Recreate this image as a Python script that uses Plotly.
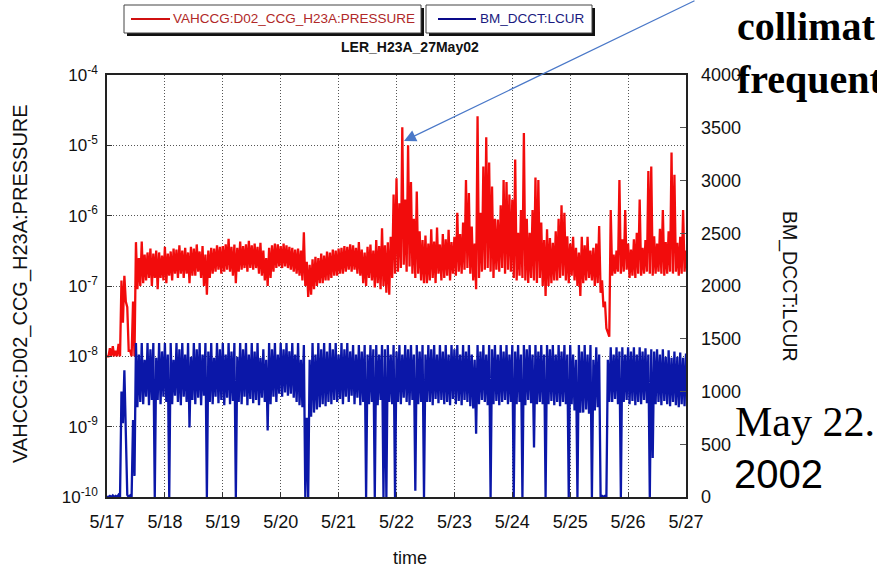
import pandas as pd
import plotly.graph_objects as go

# ---------------- data ----------------
start_time = "2002-05-17 00:00"
sample_step = "72min"          # 0.05 day between samples
half_step = pd.Timedelta("36min")

# Pressure envelope per sample, in units of 1e-7 (high / low value in each sample)
pressure_hi_e7 = [
    0.10, 0.13, 0.14, 0.12, 0.15, 1.2, 1.4, 0.5, 0.12, 0.6,
    4.2, 2.5, 4.3, 2.8, 3.0, 3.4, 2.9, 3.2, 3.0, 2.7,
    3.6, 2.9, 3.1, 3.4, 3.3, 3.8, 3.2, 3.5, 3.0, 3.6,
    3.4, 3.9, 3.1, 3.7, 2.8, 3.2, 3.5, 3.4, 3.8, 3.6,
    3.7, 3.9, 4.7, 3.6, 3.9, 3.5, 4.3, 3.7, 3.9, 4.4,
    3.8, 4.0, 3.6, 4.1, 3.2, 2.5, 3.5, 3.8, 4.0, 3.9,
    3.7, 4.0, 3.8, 3.6, 3.5, 3.3, 3.4, 3.2, 5.8, 2.2,
    2.0, 2.4, 2.6, 2.5, 2.9, 2.7, 3.1, 3.0, 3.3, 3.2,
    3.4, 3.5, 3.7, 3.6, 3.9, 3.8, 3.5, 4.2, 3.3, 3.0,
    3.6, 3.9, 3.2, 4.5, 3.7, 6.6, 3.8, 4.2, 5.0, 20,
    34, 15, 180, 17, 100, 30, 9.0, 22, 6.0, 4.5,
    5.2, 4.0, 6.4, 4.3, 6.8, 3.9, 5.5, 4.6, 6.3, 4.2,
    5.0, 11, 5.5, 8.0, 32, 21, 7.0, 4.0, 260, 11,
    50, 130, 57, 26, 9.0, 8.8, 14, 32, 30, 20,
    17, 63, 5.7, 12, 150, 9.0, 5.7, 12, 35, 32,
    8.0, 4.5, 6.4, 4.8, 4.1, 6.0, 9.0, 14, 11, 5.1,
    4.0, 5.0, 3.5, 3.0, 5.0, 3.8, 5.0, 3.2, 3.5, 4.0,
    7.1, 1.2, 0.6, 0.22, 12, 2.8, 3.2, 32, 4.6, 12,
    4.0, 3.3, 4.6, 5.7, 17, 3.5, 4.5, 43, 50, 5.1,
    4.0, 6.5, 12, 4.2, 6.0, 79, 38, 4.1, 5.0, 12, 3.2,
]
pressure_lo_e7 = [
    0.10, 0.10, 0.10, 0.10, 0.10, 0.3, 0.6, 0.12, 0.10, 0.10,
    0.9, 1.0, 1.1, 1.2, 1.3, 1.0, 1.3, 0.9, 1.3, 1.2,
    1.1, 1.4, 1.2, 1.5, 1.3, 1.5, 1.3, 1.5, 1.1, 1.4,
    1.4, 1.6, 1.3, 1.0, 0.75, 1.3, 1.5, 1.6, 1.7, 1.5,
    1.6, 1.7, 1.6, 1.4, 1.1, 1.6, 1.7, 1.8, 1.6, 1.8,
    1.7, 1.8, 1.5, 1.4, 1.2, 1.0, 1.3, 1.6, 1.8, 1.9,
    1.8, 1.9, 1.8, 1.7, 1.6, 1.5, 1.4, 1.2, 1.0, 0.7,
    0.75, 0.9, 1.0, 1.1, 1.1, 1.2, 1.2, 1.3, 1.4, 1.4,
    1.5, 1.5, 1.6, 1.7, 1.6, 1.7, 1.5, 1.4, 1.1, 1.0,
    1.3, 1.2, 0.95, 1.1, 0.9, 1.0, 0.8, 0.75, 1.3, 1.5,
    1.6, 1.8, 2.0, 1.6, 1.9, 1.5, 1.3, 1.5, 1.2, 1.1,
    1.1, 1.2, 1.3, 1.1, 1.5, 1.2, 1.3, 1.4, 1.2, 1.5,
    1.4, 1.6, 1.5, 1.7, 1.8, 1.5, 1.2, 0.9, 1.3, 1.6,
    1.7, 1.8, 1.6, 1.3, 1.7, 1.6, 1.8, 1.5, 1.7, 1.6,
    1.3, 1.2, 1.4, 1.3, 1.2, 1.1, 1.3, 1.2, 1.1, 1.3,
    1.0, 0.72, 1.0, 1.1, 1.2, 1.2, 1.3, 1.4, 1.2, 1.1,
    1.4, 1.2, 1.0, 0.72, 1.1, 1.2, 1.3, 1.2, 1.0, 1.1,
    0.8, 0.5, 0.25, 0.19, 1.4, 1.5, 1.6, 1.5, 1.6, 1.7,
    1.3, 1.4, 1.3, 1.5, 1.4, 1.5, 1.6, 1.5, 1.4, 1.5,
    1.6, 1.5, 1.4, 1.5, 1.6, 1.5, 1.6, 1.4, 1.5, 1.6, 1.7,
]

# Beam current envelope per sample (mA)
current_hi = [
    0, 10, 15, 10, 20, 1000, 1200, 20, 15, 730,
    1460, 1350, 1460, 1300, 1460, 1400, 1460, 1320, 1460, 1380,
    1460, 1350, 1460, 1300, 1460, 1400, 1460, 1350, 1460, 1330,
    1460, 1400, 1460, 1350, 1460, 1380, 1460, 1320, 1460, 1400,
    1460, 1350, 1460, 1380, 1460, 1330, 1460, 1400, 1460, 1350,
    1460, 1380, 1460, 1320, 1400, 1300, 1460, 1400, 1460, 1350,
    1460, 1400, 1460, 1380, 1460, 1350, 1460, 1300, 1440, 750,
    1300, 1460, 1350, 1460, 1400, 1460, 1380, 1460, 1400, 1460,
    1350, 1460, 1400, 1460, 1380, 1440, 1350, 1440, 1380, 1440,
    1350, 1440, 1400, 1440, 1350, 1440, 1400, 1440, 1350, 1440,
    1380, 1440, 1350, 1440, 1400, 1440, 1350, 1440, 1380, 1440,
    1350, 1440, 1400, 1440, 1350, 1440, 1380, 1440, 1350, 1440,
    1400, 1440, 1350, 1440, 1380, 1440, 1350, 1300, 1440, 1380,
    1440, 1350, 1440, 1400, 1440, 1350, 1440, 1380, 1440, 1350,
    1440, 1380, 1440, 1350, 1440, 1400, 1440, 1350, 1440, 1380,
    1440, 1350, 1440, 1400, 1440, 1350, 1440, 1380, 1440, 1350,
    1440, 1350, 1300, 1440, 1380, 1440, 1350, 1440, 1300, 1420,
    1350, 10, 10, 1300, 1420, 1350, 1420, 1380, 1420, 1350,
    1420, 1380, 1420, 1350, 1420, 1380, 1410, 1350, 1400, 1380,
    1400, 1350, 1400, 1330, 1390, 1320, 1380, 1330, 1370, 1320, 1360,
]
current_lo = [
    0, 0, 0, 0, 0, 700, 730, 0, 0, 200,
    850, 900, 880, 950, 870, 920, 0, 920, 880, 950,
    900, 0, 880, 960, 900, 870, 950, 900, 660, 920,
    880, 940, 870, 960, 0, 900, 880, 950, 890, 920,
    870, 940, 880, 910, 0, 900, 880, 950, 870, 930,
    890, 920, 870, 940, 900, 630, 880, 950, 900, 980,
    950, 990, 960, 980, 940, 900, 870, 850, 0, 0,
    760, 800, 830, 850, 880, 860, 900, 880, 920, 900,
    930, 880, 950, 900, 960, 880, 940, 870, 900, 0,
    880, 900, 0, 870, 920, 0, 0, 900, 880, 0,
    900, 880, 940, 900, 870, 920, 60, 880, 900, 0,
    900, 900, 870, 930, 890, 920, 880, 900, 870, 930,
    880, 910, 870, 920, 900, 860, 840, 600, 880, 920,
    900, 870, 0, 880, 910, 870, 900, 920, 880, 900,
    0, 880, 900, 0, 870, 920, 890, 470, 880, 900,
    880, 0, 880, 910, 870, 900, 860, 900, 880, 0,
    880, 820, 0, 800, 800, 830, 790, 0, 820, 850,
    0, 0, 0, 900, 900, 930, 880, 0, 900, 920,
    880, 910, 870, 900, 880, 920, 890, 0, 370, 880,
    900, 870, 910, 880, 860, 900, 870, 850, 880, 860, 900,
]

day_ticks = ["2002-05-%02d" % d for d in range(17, 28)]
day_tick_labels = ["5/17", "5/18", "5/19", "5/20", "5/21", "5/22",
                   "5/23", "5/24", "5/25", "5/26", "5/27"]
pressure_tick_exponents = [-10, -9, -8, -7, -6, -5, -4]
current_ticks = [0, 500, 1000, 1500, 2000, 2500, 3000, 3500, 4000]

# ---------------- build traces ----------------
times = pd.date_range(start=start_time, periods=len(pressure_hi_e7), freq=sample_step)


def envelope(hi, lo, scale=1.0):
    xs, ys = [], []
    for t, h, l in zip(times, hi, lo):
        xs += [t, t + half_step]
        ys += [h * scale, l * scale]
    return xs, ys


px_, py_ = envelope(pressure_hi_e7, pressure_lo_e7, 1e-7)
cx_, cy_ = envelope(current_hi, current_lo)

RED = "#f20c0c"
BLUE = "#0b17a8"

fig = go.Figure()
fig.add_trace(go.Scatter(x=px_, y=py_, mode="lines", name="VAHCCG:D02_CCG_H23A:PRESSURE",
                         line=dict(color=RED, width=2.3), yaxis="y"))
fig.add_trace(go.Scatter(x=cx_, y=cy_, mode="lines", name="BM_DCCT:LCUR",
                         line=dict(color=BLUE, width=2.3), yaxis="y2"))

# ---------------- layout ----------------
W, H = 877, 573
PL, PR, PT, PB = 107, 686, 75, 497


def fx(x):
    return (x - PL) / (PR - PL)


def fy(y):
    return (PB - y) / (PB - PT)


SANS = "Liberation Sans, Arial, sans-serif"
SERIF = "Liberation Serif, Times New Roman, serif"

fig.update_layout(
    width=W, height=H,
    margin=dict(l=PL, r=W - PR, t=PT, b=H - PB, pad=0),
    paper_bgcolor="white", plot_bgcolor="white",
    showlegend=False,
    font=dict(family=SANS, color="#111"),
    xaxis=dict(
        type="date", range=[day_ticks[0], day_ticks[-1]],
        tickvals=day_ticks, ticktext=day_tick_labels,
        tickfont=dict(size=18, family=SANS, color="#111"),
        ticks="inside", ticklen=5, tickcolor="#333",
        showgrid=True, gridcolor="#555", gridwidth=1, griddash="1px,2px",
        showline=True, linecolor="#222", linewidth=1.5, mirror=True,
        ticklabelstandoff=8, zeroline=False,
    ),
    yaxis=dict(
        type="log", range=[-10, -4],
        tickvals=[10.0 ** e for e in pressure_tick_exponents],
        ticktext=["10<sup>%d</sup>" % e for e in pressure_tick_exponents],
        tickfont=dict(size=17, family=SANS, color="#111"),
        ticks="inside", ticklen=5, tickcolor="#333",
        showgrid=True, gridcolor="#555", gridwidth=1, griddash="1px,2px",
        showline=True, linecolor="#222", linewidth=1.5, mirror=True,
        ticklabelstandoff=4, zeroline=False,
    ),
    yaxis2=dict(
        overlaying="y", side="right", range=[0, 4000],
        tickvals=current_ticks,
        tickfont=dict(size=18, family=SANS, color="#111"),
        ticks="inside", ticklen=6, tickcolor="#555",
        showgrid=False, showline=False, zeroline=False,
        ticklabelstandoff=14,
    ),
)

shapes = []
# legend boxes with drop shadows
for (x0, x1) in [(124, 421), (426, 592)]:
    shapes.append(dict(type="rect", xref="paper", yref="paper",
                       x0=fx(x0 + 3), x1=fx(x1 + 3), y0=fy(36), y1=fy(8),
                       fillcolor="#111", line=dict(width=0), layer="above"))
    shapes.append(dict(type="rect", xref="paper", yref="paper",
                       x0=fx(x0), x1=fx(x1), y0=fy(33), y1=fy(5),
                       fillcolor="white", line=dict(color="#444", width=1), layer="above"))
shapes.append(dict(type="line", xref="paper", yref="paper", x0=fx(131), x1=fx(170),
                   y0=fy(19), y1=fy(19), line=dict(color="#d01010", width=2), layer="above"))
shapes.append(dict(type="line", xref="paper", yref="paper", x0=fx(438), x1=fx(476),
                   y0=fy(19), y1=fy(19), line=dict(color="#0a0a8a", width=2), layer="above"))
fig.update_layout(shapes=shapes)

annotations = [
    dict(text="VAHCCG:D02_CCG_H23A:PRESSURE", x=fx(171), y=fy(19), xanchor="left", yanchor="middle",
         font=dict(size=13.5, family=SANS, color="#b02828")),
    dict(text="BM_DCCT:LCUR", x=fx(478), y=fy(19), xanchor="left", yanchor="middle",
         font=dict(size=13.5, family=SANS, color="#1a1a80")),
    dict(text="<b>LER_H23A_27May02</b>", x=fx(410), y=fy(47), xanchor="center", yanchor="middle",
         font=dict(size=14, family=SANS, color="#111")),
    dict(text="VAHCCG:D02_CCG_H23A:PRESSURE", x=fx(20), y=fy(284), textangle=-90,
         xanchor="center", yanchor="middle", font=dict(size=20, family=SANS, color="#111")),
    dict(text="BM_DCCT:LCUR", x=fx(790), y=fy(287), textangle=90,
         xanchor="center", yanchor="middle", font=dict(size=19.5, family=SANS, color="#111")),
    dict(text="time", x=fx(410), y=fy(558), xanchor="center", yanchor="middle",
         font=dict(size=18, family=SANS, color="#111")),
    dict(text="<b>collimat</b>", x=fx(735), y=fy(27), xanchor="left", yanchor="middle",
         font=dict(size=40, family=SERIF, color="#000")),
    dict(text="<b>frequent</b>", x=fx(735), y=fy(80), xanchor="left", yanchor="middle",
         font=dict(size=40, family=SERIF, color="#000")),
    dict(text="May 22.", x=fx(733), y=fy(422), xanchor="left", yanchor="middle",
         font=dict(size=42, family=SERIF, color="#000")),
    dict(text="2002", x=fx(732), y=fy(474), xanchor="left", yanchor="middle",
         font=dict(size=40, family=SANS, color="#000")),
    # arrow pointing at the 5/22 pressure spike
    dict(text="", x=fx(404), y=fy(141), xref="paper", yref="paper",
         showarrow=True, axref="pixel", ayref="pixel", ax=292, ay=-142,
         arrowhead=2, arrowsize=2.0, arrowwidth=1.2, arrowcolor="#4a78c8", standoff=0),
]
for a in annotations:
    a.setdefault("xref", "paper")
    a.setdefault("yref", "paper")
    a.setdefault("showarrow", False)
fig.update_layout(annotations=annotations)

fig.write_html("out.html")
